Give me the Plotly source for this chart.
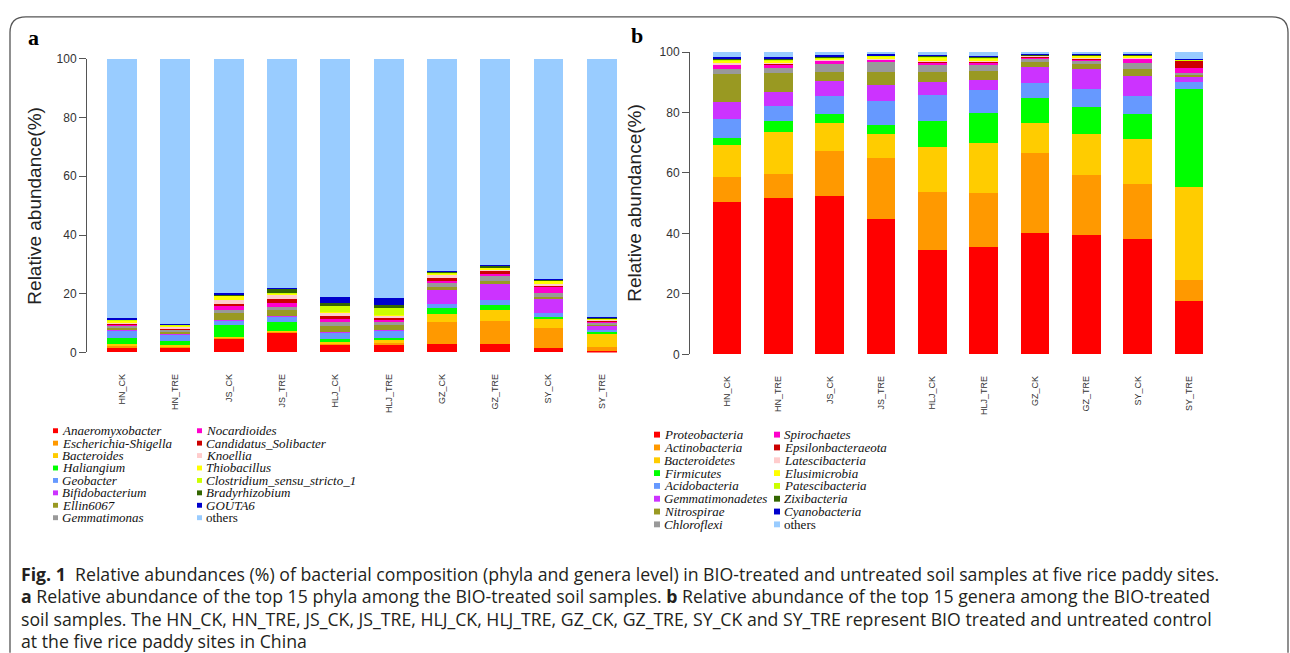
import plotly.graph_objects as go

W, H = 1290, 653

samples = ["HN_CK", "HN_TRE", "JS_CK", "JS_TRE", "HLJ_CK", "HLJ_TRE", "GZ_CK", "GZ_TRE", "SY_CK", "SY_TRE"]

colors = ["#FF0000", "#FF9900", "#FFCC00", "#00FF00", "#6699FF", "#CC33FF", "#999922", "#999999",
          "#FF00CC", "#CC0000", "#FFCCCC", "#FFFF00", "#CCFF00", "#336600", "#0000CC", "#99CCFF"]

# ---------------- panel a (genera) ----------------
genera = ["Anaeromyxobacter", "Escherichia-Shigella", "Bacteroides", "Haliangium", "Geobacter",
          "Bifidobacterium", "Ellin6067", "Gemmatimonas", "Nocardioides", "Candidatus_Solibacter",
          "Knoellia", "Thiobacillus", "Clostridium_sensu_stricto_1", "Bradyrhizobium", "GOUTA6", "others"]

Anaeromyxobacter = [1.7, 1.7, 4.7, 6.7, 2.6, 2.8, 2.8, 3.0, 1.4, 0.6]
Escherichia_Shigella = [0.6, 0.5, 0.3, 0.5, 0.4, 0.4, 7.4, 7.8, 6.9, 1.1]
Bacteroides = [0.5, 0.3, 0.2, 0.1, 0.6, 0.9, 2.9, 3.7, 3.1, 4.9]
Haliangium = [2.1, 1.4, 4.2, 3.1, 1.1, 0.9, 1.9, 1.6, 0.8, 0.5]
Geobacter = [2.5, 2.1, 1.6, 1.9, 2.0, 2.5, 1.6, 1.8, 1.1, 0.4]
Bifidobacterium = [0.4, 0.3, 0.2, 0.1, 0.2, 0.2, 5.0, 5.5, 4.8, 1.7]
Ellin6067 = [0.8, 0.9, 2.6, 2.0, 2.2, 1.8, 0.6, 0.8, 0.8, 0.5]
Gemmatimonas = [0.5, 0.5, 0.6, 1.0, 1.1, 0.8, 1.3, 1.8, 1.3, 0.4]
Nocardioides = [0.5, 0.3, 1.3, 1.3, 1.1, 0.9, 0.8, 0.8, 2.0, 0.5]
Candidatus_Solibacter = [0.3, 0.2, 0.9, 1.4, 1.1, 0.7, 1.0, 1.1, 0.8, 0.3]
Knoellia = [0.4, 0.3, 1.1, 1.6, 1.1, 0.6, 1.3, 0.5, 0.3, 0.2]
Thiobacillus = [0.5, 0.7, 1.6, 0.4, 0.3, 0.3, 0.2, 0.5, 1.2, 0.4]
Clostridium_sensu_stricto_1 = [0.3, 0.2, 0.3, 0.3, 2.1, 2.4, 0.2, 0.2, 0.2, 0.1]
Bradyrhizobium = [0.3, 0.3, 0.3, 1.4, 0.9, 0.9, 0.7, 0.5, 0.3, 0.2]
GOUTA6 = [0.2, 0.1, 0.2, 0.2, 2.0, 2.6, 0.1, 0.1, 0.1, 0.1]
others_a = [88.4, 90.2, 79.9, 78.0, 81.2, 81.3, 72.2, 70.3, 74.9, 88.1]

values_a = [Anaeromyxobacter, Escherichia_Shigella, Bacteroides, Haliangium, Geobacter, Bifidobacterium,
            Ellin6067, Gemmatimonas, Nocardioides, Candidatus_Solibacter, Knoellia, Thiobacillus,
            Clostridium_sensu_stricto_1, Bradyrhizobium, GOUTA6, others_a]

# ---------------- panel b (phyla) ----------------
phyla = ["Proteobacteria", "Actinobacteria", "Bacteroidetes", "Firmicutes", "Acidobacteria",
         "Gemmatimonadetes", "Nitrospirae", "Chloroflexi", "Spirochaetes", "Epsilonbacteraeota",
         "Latescibacteria", "Elusimicrobia", "Patescibacteria", "Zixibacteria", "Cyanobacteria", "others"]

Proteobacteria = [50.4, 51.7, 52.3, 44.7, 34.4, 35.5, 40.1, 39.4, 38.1, 17.7]
Actinobacteria = [8.2, 7.8, 14.8, 20.4, 19.4, 17.8, 26.5, 20.0, 18.4, 7.0]
Bacteroidetes = [10.7, 13.9, 9.5, 7.7, 14.9, 16.5, 10.0, 13.6, 14.7, 30.5]
Firmicutes = [2.4, 3.9, 3.0, 3.0, 8.6, 10.0, 8.3, 8.8, 8.3, 32.5]
Acidobacteria = [6.0, 4.9, 5.8, 8.1, 8.5, 7.6, 4.8, 5.9, 5.9, 2.4]
Gemmatimonadetes = [5.7, 4.5, 5.0, 5.3, 4.3, 3.4, 5.4, 6.7, 6.6, 1.6]
Nitrospirae = [9.2, 6.3, 3.1, 4.1, 3.2, 2.8, 1.7, 1.8, 2.4, 0.8]
Chloroflexi = [1.8, 1.7, 2.5, 3.6, 2.4, 2.1, 0.9, 1.1, 2.1, 0.6]
Spirochaetes = [1.4, 1.3, 1.1, 0.5, 0.8, 0.8, 0.5, 0.3, 1.3, 1.5]
Epsilonbacteraeota = [0.2, 0.2, 0.2, 0.2, 0.2, 0.2, 0.2, 0.2, 0.2, 2.5]
Latescibacteria = [0.4, 0.3, 0.2, 0.2, 0.3, 0.4, 0.3, 0.3, 0.2, 0.1]
Elusimicrobia = [0.9, 0.8, 0.5, 0.7, 1.1, 0.7, 0.2, 0.6, 0.5, 0.1]
Patescibacteria = [0.3, 0.3, 0.2, 0.3, 0.4, 0.3, 0.1, 0.2, 0.2, 0.1]
Zixibacteria = [0.3, 0.3, 0.3, 0.2, 0.3, 0.4, 0.3, 0.2, 0.2, 0.1]
Cyanobacteria = [0.4, 0.4, 0.4, 0.5, 0.2, 0.3, 0.1, 0.4, 0.5, 0.1]
others_b = [1.7, 1.7, 1.1, 0.5, 1.0, 1.2, 0.6, 0.5, 0.4, 2.4]

values_b = [Proteobacteria, Actinobacteria, Bacteroidetes, Firmicutes, Acidobacteria, Gemmatimonadetes,
            Nitrospirae, Chloroflexi, Spirochaetes, Epsilonbacteraeota, Latescibacteria, Elusimicrobia,
            Patescibacteria, Zixibacteria, Cyanobacteria, others_b]

y_ticks = [0, 20, 40, 60, 80, 100]

caption_lines = [
    "<b>Fig. 1</b>  Relative abundances (%) of bacterial composition (phyla and genera level) in BIO-treated and untreated soil samples at five rice paddy sites.",
    "<b>a</b> Relative abundance of the top 15 phyla among the BIO-treated soil samples. <b>b</b> Relative abundance of the top 15 genera among the BIO-treated",
    "soil samples. The HN_CK, HN_TRE, JS_CK, JS_TRE, HLJ_CK, HLJ_TRE, GZ_CK, GZ_TRE, SY_CK and SY_TRE represent BIO treated and untreated control",
    "at the five rice paddy sites in China",
]

# ---------------- figure ----------------
def px(v):
    return v / W

def py(v):
    return 1 - v / H

fig = go.Figure()
for name, vals, col in zip(genera, values_a, colors):
    fig.add_trace(go.Bar(x=samples, y=vals, name=name, marker=dict(color=col, line=dict(width=0)),
                         xaxis="x", yaxis="y", showlegend=False))
for name, vals, col in zip(phyla, values_b, colors):
    fig.add_trace(go.Bar(x=samples, y=vals, name=name, marker=dict(color=col, line=dict(width=0)),
                         xaxis="x2", yaxis="y2", showlegend=False))

axis_font = dict(family="Liberation Sans, Arial", size=12, color="#333333")
xfont = dict(family="Liberation Sans, Arial", size=9, color="#333333")

common_x = dict(type="category", tickangle=-90, ticks="outside", ticklen=17, tickcolor="rgba(0,0,0,0)",
                showline=False, showgrid=False, zeroline=False, tickfont=xfont)
common_y = dict(range=[0, 100], tickvals=y_ticks, ticks="outside", ticklen=7, tickcolor="#555555",
                tickwidth=1, showline=True, linecolor="#555555", linewidth=1, showgrid=False,
                zeroline=False, tickfont=axis_font)

fig.update_layout(
    width=W, height=H, margin=dict(l=0, r=0, t=0, b=0),
    paper_bgcolor="white", plot_bgcolor="white",
    barmode="stack", bargap=0.44, showlegend=False,
    xaxis=dict(domain=[px(87), px(628.5)], range=[-0.657, 9.5], anchor="y", **common_x),
    yaxis=dict(domain=[py(353), py(53)], anchor="x", **common_y),
    xaxis2=dict(domain=[px(690), px(1214.7)], range=[-0.721, 9.5], anchor="y2", **common_x),
    yaxis2=dict(domain=[py(355), py(46)], anchor="x2", **common_y),
)

annotations = []
shapes = []

# y titles and panel letters
for xc, yc in [(35, 203), (635, 200)]:
    annotations.append(dict(x=px(xc), y=py(yc), xref="paper", yref="paper", text="Relative abundance(%)",
                            textangle=-90, showarrow=False, xanchor="center", yanchor="middle",
                            font=dict(family="Liberation Sans, Arial", size=19, color="#222222")))
for letter, xc, yc in [("a", 33, 31), ("b", 637, 29)]:
    annotations.append(dict(x=px(xc), y=py(yc), xref="paper", yref="paper", text="<b>%s</b>" % letter,
                            showarrow=False, xanchor="center", yanchor="middle",
                            font=dict(family="Liberation Serif, Times New Roman", size=22, color="black")))

# manual legends
def add_legend(names, col_marker_x, col_text_x, y0, dy, msize):
    for i, (name, col) in enumerate(zip(names, colors)):
        c, r = divmod(i, 8)
        yc = y0 + r * dy
        mx = col_marker_x[c]
        shapes.append(dict(type="rect", xref="paper", yref="paper", x0=px(mx), x1=px(mx + msize),
                           y0=py(yc - msize / 2), y1=py(yc + msize / 2), fillcolor=col, line=dict(width=0)))
        txt = name if name == "others" else "<i>%s</i>" % name
        annotations.append(dict(x=px(col_text_x[c]), y=py(yc), xref="paper", yref="paper", text=txt,
                                showarrow=False, xanchor="left", yanchor="middle",
                                font=dict(family="Liberation Serif, Times New Roman", size=13, color="#111111")))

add_legend(genera, [53, 197], [60, 204], 433, 12.7, 5)
add_legend(phyla, [654, 774], [662, 782], 437, 13.1, 6)

# caption
for i, line in enumerate(caption_lines):
    annotations.append(dict(x=px(19), y=py(579 + i * 23), xref="paper", yref="paper", text=line,
                            showarrow=False, xanchor="left", yanchor="middle",
                            font=dict(family="Open Sans", size=17.7, color="#231F20")))

# frame with rounded corners
shapes.append(dict(type="path", xref="paper", yref="paper",
                   path="M %f,%f L %f,%f Q %f,%f %f,%f L %f,%f Q %f,%f %f,%f L %f,%f" % (
                       px(10), py(660), px(10), py(26), px(10), py(10), px(26), py(10),
                       px(1272), py(10), px(1288), py(10), px(1288), py(26), px(1288), py(660)),
                   line=dict(color="#555555", width=1.3)))

fig.update_layout(annotations=annotations, shapes=shapes)
fig.write_html("out.html")
